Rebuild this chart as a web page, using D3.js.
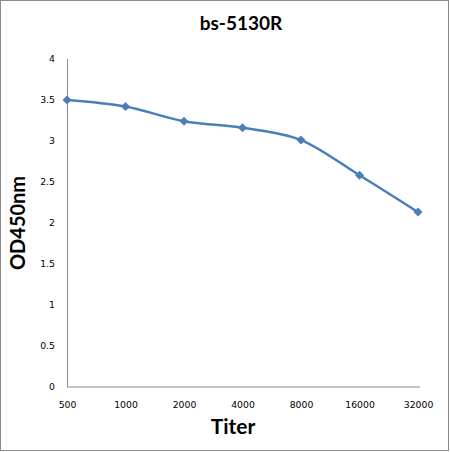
<!DOCTYPE html>
<html><head><meta charset="utf-8">
<script src="https://cdn.jsdelivr.net/npm/d3@7"></script>
<style>body{margin:0;background:#fff}svg{display:block}</style>
</head><body>
<svg id="c" width="450" height="452"></svg>
<script>
const categories = ["500","1000","2000","4000","8000","16000","32000"];
const values = [3.5, 3.42, 3.24, 3.16, 3.01, 2.58, 2.13];
const yTicks = [0,0.5,1,1.5,2,2.5,3,3.5,4];
const title = "bs-5130R";
const xTitle = "Titer";
const yTitle = "OD450nm";

const svg = d3.select("#c");
svg.append("rect").attr("x",0.5).attr("y",0.5).attr("width",448).attr("height",450)
  .attr("fill","#fff").attr("stroke","#8c8c8c");

const x = d3.scalePoint().domain(categories).range([67,418]);
const y = d3.scaleLinear().domain([0,4]).range([386.5,59]);
const font = "Tahoma, 'DejaVu Sans', sans-serif";
const tfont = "Lato, Calibri, sans-serif";

// y axis
const ya = svg.append("g").attr("transform","translate(67,0)")
  .call(d3.axisLeft(y).tickValues(yTicks).tickSize(0).tickPadding(12).tickFormat(d3.format("")));
ya.select(".domain").attr("stroke","#8c8c8c").attr("d",`M0.5,${y(4)}V${y(0)+0.5}`);
ya.selectAll("text").attr("font-family",font).attr("font-size",9.3).attr("fill","#000");

// x axis
const xa = svg.append("g").attr("transform",`translate(0,${y(0)})`)
  .call(d3.axisBottom(x).tickSize(0).tickPadding(15));
xa.select(".domain").attr("stroke","#8c8c8c").attr("d",`M67,0.5H420`);
xa.selectAll("text").attr("font-family",font).attr("font-size",9.3).attr("fill","#000");

// line
const line = d3.line().x((d,i)=>x(categories[i])).y(d=>y(d)).curve(d3.curveCatmullRom.alpha(0));
svg.append("path").datum(values).attr("d",line).attr("fill","none")
  .attr("stroke","#4a7ebb").attr("stroke-width",2.5);
svg.selectAll(".m").data(values).join("path").attr("class","m")
  .attr("transform",(d,i)=>`translate(${x(categories[i])},${y(d)})`)
  .attr("d","M0,-4.5L4.5,0L0,4.5L-4.5,0Z").attr("fill","#4a7ebb");

// titles
svg.append("text").attr("x",241).attr("y",30).attr("text-anchor","middle")
  .attr("font-family",tfont).attr("font-weight","bold").attr("font-size",19).text(title);
svg.append("text").attr("x",233).attr("y",434).attr("text-anchor","middle")
  .attr("font-family",tfont).attr("font-weight","bold").attr("font-size",21).text(xTitle);
svg.append("text").attr("transform","translate(25,223) rotate(-90)").attr("text-anchor","middle")
  .attr("font-family",tfont).attr("font-weight","bold").attr("font-size",20).text(yTitle);
</script>
</body></html>
